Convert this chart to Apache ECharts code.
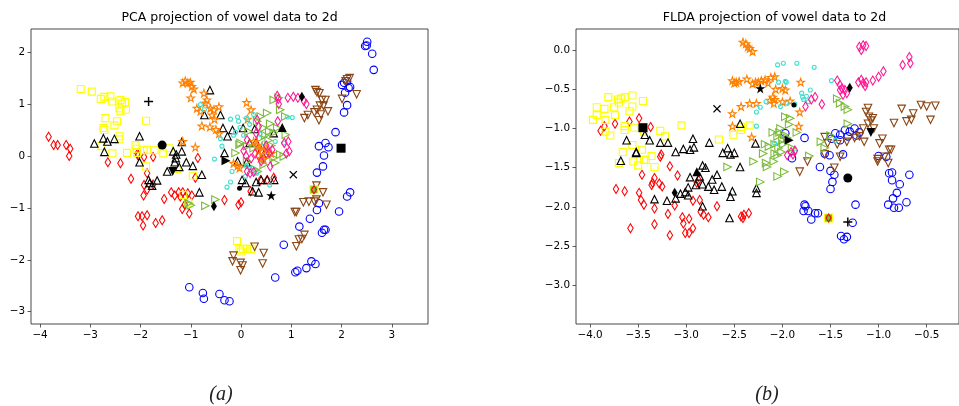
<!DOCTYPE html>
<html><head><meta charset="utf-8">
<script src="https://cdn.jsdelivr.net/npm/echarts@6/dist/echarts.min.js"></script>
<style>html,body{margin:0;padding:0;background:#fff}#c{width:959px;height:406px}</style>
</head><body><div id="c"></div>
<script>
// ---------- DATA ----------
const pcaXTicks = [-4,-3,-2,-1,0,1,2,3];
const pcaYTicks = [-3,-2,-1,0,1,2];
const fldaXTicks = [-4,-3.5,-3,-2.5,-2,-1.5,-1,-0.5];
const fldaYTicks = [-3,-2.5,-2,-1.5,-1,-0.5,0];

const pcaRed = [[-3.83,0.37],[-3.73,0.21],[-3.65,0.21],[-3.48,0.21],[-3.40,0.14],[-3.42,0.0],[-2.65,-0.12],[-2.40,-0.14],[-2.19,-0.44],[-2.05,0.01],[-2.06,0.05],[-1.93,-0.02],[-1.75,-0.02],[-1.87,-0.33],[-1.93,-0.56],[-1.94,-0.76],[-1.87,-0.65],[-1.75,-0.55],[-1.53,-0.83],[-1.39,-0.70],[-1.32,-0.76],[-1.24,-0.70],[-1.21,-0.78],[-1.16,-0.70],[-1.10,-0.78],[-1.06,-0.72],[-0.98,-0.76],[-1.17,-1.02],[-1.03,-1.11],[-1.12,-0.94],[-2.05,-1.16],[-1.97,-1.16],[-1.95,-1.34],[-1.87,-1.14],[-1.70,-1.29],[-1.57,-1.24],[-0.91,-0.42],[-0.86,-0.04],[-0.33,-0.85],[-0.05,-0.94],[0.0,-0.89],[0.19,-0.68],[0.65,-0.42],[0.52,-0.46],[0.39,-0.46],[0.40,0.10],[0.45,-0.05],[0.30,0.25],[0.35,0.00],[0.50,0.05]];
const pcaYellow = [[-3.19,1.29],[-2.97,1.24],[-2.79,1.10],[-2.72,1.14],[-2.60,1.15],[-2.57,1.05],[-2.40,1.08],[-2.37,1.01],[-2.31,1.04],[-2.42,0.92],[-2.40,0.86],[-2.29,0.89],[-2.70,0.73],[-2.74,0.54],[-2.72,0.50],[-2.47,0.67],[-2.52,0.59],[-1.89,0.68],[-2.42,0.38],[-2.42,0.32],[-2.78,0.19],[-2.56,0.05],[-2.27,0.06],[-2.10,0.21],[-2.08,0.14],[-2.07,0.06],[-1.94,0.11],[-1.87,0.12],[-1.72,0.11],[-1.55,0.05],[-1.44,0.15],[-1.89,-0.20],[-1.28,-0.25],[-0.96,-0.38],[-1.05,-0.90],[-1.15,-0.75],[-0.08,-1.64],[-0.03,-1.80],[0.04,-1.79],[0.0,-1.84],[0.12,-1.79],[0.21,-1.79]];
const pcaBlackTri = [[-2.92,0.24],[-2.74,0.34],[-2.66,0.28],[-2.52,0.33],[-2.72,0.08],[-2.02,0.38],[-2.02,-0.12],[-1.84,-0.46],[-1.82,-0.52],[-1.67,-0.47],[-1.77,-0.57],[-1.35,0.09],[-1.29,0.03],[-1.18,0.09],[-1.32,-0.12],[-1.09,-0.12],[-1.18,0.27],[-1.47,-0.30],[-1.23,-0.21],[-0.96,-0.19],[-0.78,-0.36],[-0.83,-0.70],[-0.73,0.79],[-0.62,1.27],[-0.41,0.79],[-0.36,0.54],[-0.27,0.38],[-0.17,0.50],[-0.33,0.06],[-0.07,-0.10],[0.11,-0.12],[0.02,-0.46],[0.09,-0.52],[0.23,-0.68],[0.35,-0.70],[0.40,-0.46],[0.52,-0.46],[0.66,-0.46],[0.27,0.52],[0.04,0.54],[0.17,0.25],[0.65,0.44],[0.30,-0.50],[-1.30,-0.04]];
const pcaBlue = [[2.51,2.20],[2.50,2.13],[2.47,2.12],[2.61,1.97],[2.64,1.66],[2.01,1.37],[2.05,1.41],[2.11,1.44],[2.14,1.31],[2.17,1.33],[2.07,1.22],[2.11,0.98],[2.05,0.84],[1.88,0.46],[1.55,0.19],[1.68,0.25],[1.74,0.17],[1.65,0.01],[1.63,-0.20],[1.51,-0.32],[1.55,-0.91],[1.51,-1.04],[2.11,-0.78],[2.17,-0.70],[1.95,-1.07],[1.37,-1.21],[1.16,-1.36],[1.61,-1.48],[1.65,-1.42],[1.68,-1.42],[0.85,-1.71],[1.40,-2.03],[1.48,-2.08],[1.30,-2.16],[1.12,-2.21],[1.08,-2.24],[0.68,-2.34],[-1.03,-2.53],[-0.76,-2.64],[-0.74,-2.75],[-0.43,-2.66],[-0.33,-2.78],[-0.23,-2.80]];
const pcaBrown = [[2.11,1.48],[2.16,1.50],[2.08,1.44],[2.30,1.19],[2.01,1.10],[1.48,1.27],[1.51,1.23],[1.56,1.21],[1.61,1.08],[1.68,1.08],[1.57,0.97],[1.64,0.97],[1.73,0.86],[1.51,0.89],[1.46,0.84],[1.59,0.80],[1.55,0.69],[1.26,0.73],[1.33,0.79],[1.50,-0.57],[1.63,-0.70],[1.70,-0.94],[1.50,-0.84],[1.46,-0.88],[1.24,-0.89],[1.35,-0.88],[1.10,-1.08],[1.07,-1.08],[1.15,-1.61],[1.21,-1.60],[1.26,-1.52],[1.10,-1.74],[0.27,-1.75],[0.45,-1.87],[0.43,-2.07],[-0.15,-1.92],[-0.17,-2.03],[-0.01,-2.06],[0.03,-2.11],[-0.01,-2.20]];
const pcaGreen = [[0.65,1.08],[0.75,1.12],[0.88,0.76],[0.78,0.89],[0.52,0.83],[0.39,0.76],[0.32,0.67],[0.45,0.54],[0.56,0.47],[0.65,0.45],[0.89,0.41],[0.72,0.54],[0.15,0.47],[-0.01,0.25],[-0.03,0.22],[0.12,0.19],[0.25,0.15],[0.45,0.09],[0.52,-0.01],[0.65,-0.04],[0.78,0.03],[0.85,-0.01],[0.68,-0.13],[0.45,-0.17],[0.12,-0.10],[-0.11,0.06],[0.28,-0.26],[0.33,-0.30],[-1.04,-0.91],[-1.00,-0.95],[-0.71,-0.96],[-0.51,-0.84],[0.55,0.30],[0.60,0.20],[0.40,0.35],[0.58,0.62],[0.48,0.40]];
const pcaOrange = [[-1.16,1.41],[-1.11,1.45],[-1.06,1.41],[-1.01,1.42],[-0.98,1.34],[-0.94,1.29],[-1.00,1.12],[-0.74,1.21],[-0.68,1.08],[-0.71,1.02],[-0.88,0.92],[-0.81,0.86],[-0.61,0.92],[-0.54,0.89],[-0.44,0.95],[-0.58,0.79],[-0.53,0.71],[-0.78,0.58],[-0.62,0.56],[-0.50,0.51],[-0.44,0.43],[0.11,1.03],[0.20,0.89],[0.13,0.71],[-0.91,0.17],[-1.16,0.28],[-0.15,-0.14],[-0.07,-0.19],[-0.03,-0.23],[0.25,0.28],[0.32,0.21],[0.42,0.19],[0.52,0.15],[0.39,-0.04],[0.45,-0.06],[0.60,0.05],[0.35,0.10]];
const pcaTurq = [[-0.81,0.99],[-0.73,0.89],[-0.21,0.71],[-0.07,0.75],[-0.05,0.67],[0.11,0.73],[0.25,0.80],[0.17,0.61],[1.02,0.74],[0.92,0.75],[-0.11,0.46],[-0.15,0.40],[-0.41,0.33],[-0.38,0.19],[-0.53,-0.06],[0.45,0.25],[0.68,0.28],[0.85,0.25],[0.38,0.42],[-0.18,-0.30],[-0.21,-0.50],[-0.28,-0.60],[0.11,-0.20],[0.09,-0.39],[0.57,-0.56],[0.31,-0.33],[0.22,-0.23],[0.05,0.40],[-0.02,0.55]];
const pcaPink = [[0.72,1.16],[0.74,1.10],[0.75,1.00],[0.93,1.12],[1.04,1.14],[1.13,1.12],[1.25,1.06],[1.30,1.00],[0.86,0.25],[0.94,0.28],[0.96,0.09],[0.90,0.05],[0.73,0.67],[0.12,0.31],[0.32,0.70],[0.35,0.57],[0.30,0.44],[0.56,0.06],[0.58,-0.20],[0.12,-0.30],[0.18,-0.33],[0.25,-0.31],[0.05,0.10],[0.10,0.00],[0.20,-0.05],[0.50,0.20],[0.62,0.12],[0.40,-0.10],[0.28,0.05]];
const pcaOdd = [[1.45,-0.65]];

const fldaRed = [[-3.49,-0.87],[-3.37,-0.98],[-3.59,-0.91],[-3.74,-0.94],[-3.85,-0.97],[-3.89,-1.03],[-3.73,-1.77],[-3.64,-1.80],[-3.46,-1.59],[-3.49,-1.82],[-3.47,-1.91],[-3.44,-1.97],[-3.36,-1.72],[-3.35,-1.69],[-3.33,-1.63],[-3.28,-1.70],[-3.25,-1.74],[-3.27,-1.36],[-3.26,-1.33],[-3.17,-1.48],[-3.09,-1.60],[-3.12,-1.98],[-3.19,-2.09],[-3.17,-2.36],[-3.33,-2.22],[-3.33,-2.02],[-3.58,-2.27],[-3.04,-2.13],[-3.03,-2.21],[-3.01,-2.33],[-2.97,-2.33],[-2.93,-2.27],[-2.97,-2.15],[-2.93,-1.92],[-2.86,-1.91],[-2.85,-2.06],[-2.82,-2.10],[-2.77,-2.13],[-2.68,-1.99],[-2.89,-1.69],[-2.87,-1.66],[-2.43,-2.12],[-2.41,-2.14],[-2.40,-2.10],[-2.35,-2.08]];
const fldaYellow = [[-3.97,-0.89],[-3.93,-0.83],[-3.93,-0.73],[-3.85,-0.75],[-3.81,-0.60],[-3.84,-1.04],[-3.79,-1.09],[-3.75,-0.73],[-3.74,-0.83],[-3.71,-0.63],[-3.68,-0.62],[-3.70,-0.67],[-3.64,-0.60],[-3.56,-0.58],[-3.56,-0.72],[-3.59,-0.78],[-3.45,-0.65],[-3.84,-0.89],[-3.64,-0.97],[-3.64,-1.02],[-3.54,-0.99],[-3.44,-1.04],[-3.27,-1.03],[-3.22,-1.10],[-3.05,-0.96],[-2.66,-1.14],[-2.51,-1.08],[-2.43,-1.02],[-2.34,-0.96],[-2.43,-0.98],[-3.66,-1.30],[-3.56,-1.21],[-3.46,-1.27],[-3.36,-1.35],[-3.42,-1.40],[-3.70,-1.44],[-3.55,-1.42],[-3.50,-1.47],[-3.44,-1.40],[-3.33,-1.49]];
const fldaBlackTri = [[-3.68,-1.41],[-3.62,-1.15],[-3.52,-1.31],[-3.43,-1.08],[-3.38,-1.15],[-3.27,-1.18],[-3.19,-1.18],[-3.11,-1.30],[-3.03,-1.26],[-2.96,-1.27],[-2.92,-1.24],[-2.93,-1.13],[-2.76,-1.18],[-2.62,-1.31],[-2.57,-1.25],[-2.54,-1.33],[-2.50,-1.31],[-2.44,-0.94],[-2.44,-1.49],[-2.28,-1.19],[-3.33,-1.90],[-3.20,-1.92],[-3.11,-1.89],[-3.06,-1.83],[-3.01,-1.81],[-2.98,-1.85],[-2.96,-1.62],[-2.98,-1.75],[-2.90,-1.72],[-2.83,-1.71],[-2.86,-1.61],[-2.83,-1.47],[-2.80,-1.50],[-2.77,-1.74],[-2.73,-1.65],[-2.71,-1.78],[-2.68,-1.59],[-2.63,-1.74],[-2.52,-1.80],[-2.54,-1.87],[-2.55,-2.14],[-2.27,-1.76],[-2.27,-1.82],[-2.83,-1.99],[-3.52,-1.30]];
const fldaBlue = [[-1.97,-1.06],[-1.77,-1.12],[-1.90,-1.38],[-1.61,-1.49],[-1.56,-1.32],[-1.51,-1.34],[-1.49,-1.13],[-1.45,-1.06],[-1.40,-1.08],[-1.35,-1.02],[-1.30,-1.04],[-1.25,-1.00],[-1.40,-1.15],[-1.23,-1.09],[-1.37,-1.33],[-1.50,-1.54],[-1.46,-1.59],[-1.48,-1.68],[-1.50,-1.77],[-1.00,-1.35],[-0.92,-1.36],[-0.89,-1.57],[-0.86,-1.56],[-0.86,-1.66],[-0.78,-1.71],[-0.68,-1.59],[-1.77,-1.97],[-1.76,-1.99],[-1.78,-2.05],[-1.73,-2.05],[-1.70,-2.16],[-1.66,-2.08],[-1.63,-2.08],[-1.24,-1.97],[-1.27,-2.20],[-1.39,-2.37],[-1.36,-2.41],[-1.33,-2.38],[-0.90,-1.97],[-0.84,-2.01],[-0.79,-2.01],[-0.81,-1.82],[-0.85,-1.89],[-0.71,-1.94],[-1.32,-1.10],[-1.20,-1.05]];
const fldaBrown = [[-1.11,-0.74],[-1.13,-0.79],[-1.10,-0.85],[-1.08,-0.90],[-1.06,-0.87],[-1.11,-0.94],[-1.16,-1.00],[-1.20,-1.10],[-1.15,-1.17],[-0.99,-1.19],[-0.96,-1.13],[-0.84,-0.93],[-0.76,-0.75],[-0.64,-0.81],[-0.56,-0.70],[-0.50,-0.72],[-0.41,-0.71],[-0.46,-0.89],[-0.71,-0.91],[-0.66,-0.89],[-1.56,-1.11],[-1.53,-1.19],[-1.43,-1.20],[-1.33,-1.17],[-0.87,-1.27],[-1.74,-1.42],[-1.82,-1.55],[-1.56,-1.33],[-1.46,-1.50],[-1.40,-1.36],[-1.01,-1.42],[-1.01,-1.39],[-0.94,-1.36],[-0.90,-1.44],[-0.89,-1.27],[-1.05,-1.00],[-1.25,-1.12]];
const fldaGreen = [[-1.43,-0.62],[-1.40,-0.68],[-1.35,-0.72],[-1.32,-0.76],[-1.32,-0.94],[-1.50,-1.09],[-1.60,-1.17],[-1.56,-1.25],[-1.97,-0.85],[-1.92,-0.87],[-2.02,-1.00],[-1.98,-1.08],[-2.18,-1.20],[-2.14,-1.23],[-2.08,-1.32],[-2.05,-1.34],[-2.01,-1.30],[-2.30,-1.42],[-2.17,-1.44],[-2.16,-1.49],[-1.98,-1.55],[-2.05,-1.61],[-2.23,-1.68],[-2.57,-1.49],[-2.20,-1.32],[-2.09,-1.42],[-2.05,-1.10],[-2.00,-1.15],[-1.95,-1.12],[-2.08,-1.20],[-1.93,-0.95],[-2.10,-1.05],[-1.90,-1.25],[-2.04,-1.25],[-1.85,-1.05],[-1.72,-1.35],[-2.03,-1.05],[-1.99,-1.20]];
const fldaOrange = [[-2.41,0.10],[-2.38,0.08],[-2.36,0.04],[-2.34,0.02],[-2.31,-0.02],[-2.52,-0.39],[-2.48,-0.41],[-2.45,-0.40],[-2.37,-0.37],[-2.28,-0.41],[-2.25,-0.41],[-2.22,-0.39],[-2.18,-0.38],[-2.12,-0.35],[-2.08,-0.34],[-2.15,-0.42],[-2.07,-0.50],[-2.00,-0.49],[-1.97,-0.51],[-1.81,-0.41],[-2.52,-0.81],[-2.43,-0.72],[-2.34,-0.68],[-2.27,-0.68],[-2.13,-0.64],[-2.08,-0.63],[-2.09,-0.68],[-2.00,-0.66],[-1.92,-0.65],[-1.82,-0.79],[-1.83,-0.97],[-2.52,-0.97],[-2.32,-1.11],[-2.50,-0.42],[-2.31,-0.43],[-2.10,-0.60]];
const fldaTurq = [[-2.05,-0.19],[-1.99,-0.17],[-1.85,-0.17],[-1.67,-0.22],[-2.04,-0.41],[-1.96,-0.41],[-1.80,-0.55],[-1.78,-0.63],[-1.71,-0.51],[-1.49,-0.39],[-2.17,-0.66],[-2.23,-0.73],[-2.27,-0.79],[-1.95,-0.68],[-2.02,-0.72],[-1.87,-0.69],[-2.27,-0.97],[-2.08,-1.19],[-1.73,-0.66],[-1.75,-0.59],[-1.87,-1.30],[-1.97,-0.40],[-1.79,-0.60],[-1.45,-1.15]];
const fldaPink = [[-1.20,0.04],[-1.16,0.06],[-1.13,0.05],[-1.18,0.00],[-0.75,-0.19],[-0.68,-0.09],[-0.67,-0.17],[-1.43,-0.39],[-1.40,-0.45],[-1.38,-0.49],[-1.35,-0.51],[-1.40,-0.51],[-1.33,-0.55],[-1.37,-0.57],[-1.21,-0.41],[-1.18,-0.38],[-1.16,-0.42],[-1.14,-0.46],[-1.13,-0.41],[-1.06,-0.39],[-1.00,-0.34],[-0.95,-0.27],[-1.70,-0.63],[-1.66,-0.60],[-1.59,-0.69],[-1.76,-0.72],[-1.95,-1.34],[-1.91,-1.30],[-1.89,-1.33],[-1.87,-1.28]];
const fldaOdd = [[-1.52,-2.14]];

// class means (black filled markers), same marker order in both panels
const meanMarkers = ['plus','circle','square','diamond','triUp','triDown','diamond','triRight','dot','cross','star'];
const pcaMeans  = [[-1.84,1.05],[-1.57,0.21],[1.99,0.15],[1.21,1.14],[0.82,0.55],[-1.36,-0.30],[-0.54,-0.97],[-0.30,-0.09],[-0.03,-0.62],[1.04,-0.36],[0.60,-0.76]];
const fldaMeans = [[-1.32,-2.19],[-1.32,-1.63],[-3.45,-0.99],[-1.30,-0.48],[-2.89,-1.55],[-1.08,-1.05],[-3.12,-1.82],[-1.93,-1.15],[-1.88,-0.70],[-2.68,-0.75],[-2.23,-0.49]];

// ---------- STYLE ----------
const SYM = {
  circle:'circle', square:'rect', triUp:'triangle', diamond:'diamond', dot:'circle',
  triDown:'path://M0,0L10,0L5,10Z',
  triRight:'path://M0,0L10,5L0,10Z',
  star:'path://M50,0L61.2,34.5L97.6,34.5L68.2,55.9L79.4,90.5L50,69.1L20.6,90.5L31.8,55.9L2.4,34.5L38.8,34.5Z',
  plus:'path://M4.2,0H5.8V4.2H10V5.8H5.8V10H4.2V5.8H0V4.2H4.2Z',
  cross:'path://M1.1,0L5,3.9L8.9,0L10,1.1L6.1,5L10,8.9L8.9,10L5,6.1L1.1,10L0,8.9L3.9,5L0,1.1Z'
};
const meanSize = {plus:9, circle:9, square:9, diamond:[6,10], triUp:9, triDown:9, triRight:9, dot:5, cross:8, star:10};

const classes = [
  {name:'red', pca:pcaRed, flda:fldaRed, sym:'diamond', size:[5.5,9], color:'#ff0000'},
  {name:'yellow', pca:pcaYellow, flda:fldaYellow, sym:'square', size:7, color:'#ffff00'},
  {name:'black', pca:pcaBlackTri, flda:fldaBlackTri, sym:'triUp', size:7.5, color:'#000000'},
  {name:'blue', pca:pcaBlue, flda:fldaBlue, sym:'circle', size:7.5, color:'#0000ff'},
  {name:'brown', pca:pcaBrown, flda:fldaBrown, sym:'triDown', size:7.5, color:'#8b4513'},
  {name:'green', pca:pcaGreen, flda:fldaGreen, sym:'triRight', size:7.5, color:'#7cbb3a'},
  {name:'orange', pca:pcaOrange, flda:fldaOrange, sym:'star', size:7.5, color:'#ff8000'},
  {name:'turq', pca:pcaTurq, flda:fldaTurq, sym:'circle', size:4, color:'#40e0d0'},
  {name:'pink', pca:pcaPink, flda:fldaPink, sym:'diamond', size:[5.5,9], color:'#ff1493'}
];

const series = [];
function addSeries(data, idx, sym, size, color, fill, z) {
  series.push({
    type:'scatter', xAxisIndex:idx, yAxisIndex:idx, data:data,
    symbol: SYM[sym], symbolSize:size, z: z||2,
    itemStyle: fill ? {color:color, borderWidth:0, opacity:1}
                    : {color:'rgba(255,255,255,0)', borderColor:color, borderWidth:1.1, opacity:1},
    emphasis:{disabled:true}, silent:true, animation:false
  });
}
classes.forEach(c => {
  addSeries(c.pca, 0, c.sym, c.size, c.color, false);
  addSeries(c.flda, 1, c.sym, c.size, c.color, false);
});
// overlapping odd marks
[[pcaOdd,0],[fldaOdd,1]].forEach(([d,i]) => {
  addSeries(d, i, 'square', 8, '#7cbb3a', true, 3);
  addSeries(d, i, 'square', 8, '#ffff00', false, 3);
  addSeries(d, i, 'diamond', [5,8], '#ff0000', false, 3);
});
meanMarkers.forEach((m, k) => {
  addSeries([pcaMeans[k]], 0, m, meanSize[m], '#000000', true, 5);
  addSeries([fldaMeans[k]], 1, m, meanSize[m], '#000000', true, 5);
});

const minus = s => s.replace('-', '\u2212');
const labelBase = {fontFamily:'DejaVu Sans', fontSize:10.4, color:'#000', margin:6};
const tickBase = {show:true, inside:false, length:3.5, lineStyle:{color:'#333', width:0.8}};
function axis(idx, min, max, ticks, fmt) {
  return {
    type:'value', gridIndex:idx, min:min, max:max,
    axisLine:{show:false, onZero:false}, splitLine:{show:false},
    axisTick:Object.assign({customValues:ticks}, tickBase),
    axisLabel:Object.assign({customValues:ticks, formatter:fmt, showMinLabel:true, showMaxLabel:true}, labelBase)
  };
}
const fmtInt = v => minus(String(v));
const fmt1 = v => minus(Number(v).toFixed(1));

const option = {
  animation:false,
  backgroundColor:'#ffffff',
  grid:[
    {left:31, top:29, width:397, height:295, show:true, borderColor:'#333', borderWidth:0.9, backgroundColor:'transparent'},
    {left:576, top:29, width:397, height:295, show:true, borderColor:'#333', borderWidth:0.9, backgroundColor:'transparent'}
  ],
  xAxis:[
    Object.assign(axis(0,-4.18,3.72,pcaXTicks,fmtInt), {position:'bottom'}),
    Object.assign(axis(1,-4.146,-0.164,fldaXTicks,fmt1), {position:'bottom'})
  ],
  yAxis:[
    Object.assign(axis(0,-3.237,2.447,pcaYTicks,fmtInt), {position:'left'}),
    Object.assign(axis(1,-3.49,0.267,fldaYTicks,fmt1), {position:'left'})
  ],
  graphic:[
    {type:'text', x:229.5, y:18, style:{text:'PCA projection of vowel data to 2d', font:'12.5px "DejaVu Sans"', fill:'#000', align:'center', verticalAlign:'middle'}},
    {type:'text', x:774.5, y:18, style:{text:'FLDA projection of vowel data to 2d', font:'12.5px "DejaVu Sans"', fill:'#000', align:'center', verticalAlign:'middle'}},
    {type:'text', x:221, y:395, style:{text:'(a)', font:'italic 20px "Liberation Serif"', fill:'#222', align:'center', verticalAlign:'middle'}},
    {type:'text', x:767, y:395, style:{text:'(b)', font:'italic 20px "Liberation Serif"', fill:'#222', align:'center', verticalAlign:'middle'}}
  ],
  series:series
};
const chart = echarts.init(document.getElementById('c'), null, {renderer:'canvas'});
chart.setOption(option);
</script></body></html>
